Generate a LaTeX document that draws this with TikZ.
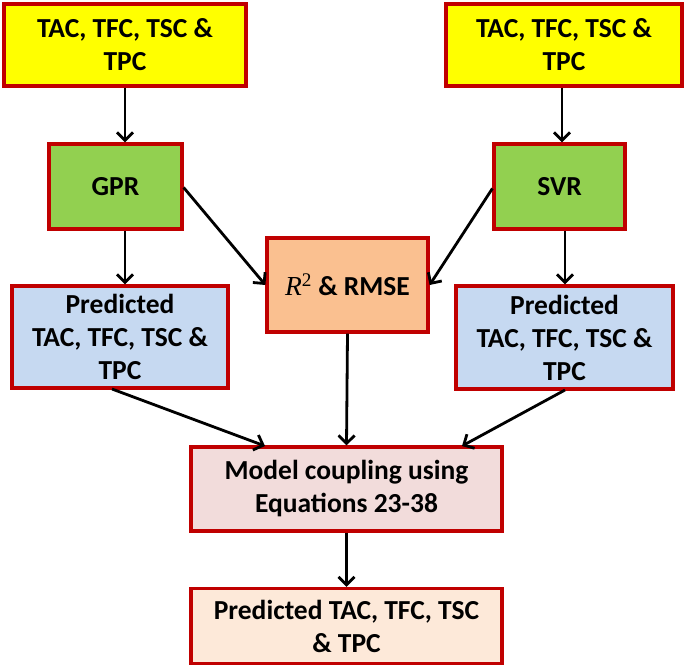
\documentclass[tikz,border=0pt]{standalone}
\usepackage{fontspec}
\setmainfont{Carlito}
\newfontfamily\rsqfont{Liberation Serif}
\usetikzlibrary{arrows.meta,calc}
\definecolor{bordred}{HTML}{C00000}
\definecolor{yel}{HTML}{FFFF00}
\definecolor{grn}{HTML}{92D050}
\definecolor{org}{HTML}{FAC090}
\definecolor{blu}{HTML}{C6D9F1}
\definecolor{pnk}{HTML}{F2DCDB}
\definecolor{peach}{HTML}{FDE9D9}
\tikzset{
  box/.style={draw=bordred, line width=3.2pt, inner sep=0pt, align=center,
    font=\fontsize{27.5}{33}\selectfont\bfseries},
  conn/.style={line width=2.8pt, -{Straight Barb[length=8pt,width=16pt,line width=2.8pt]}},
}
\begin{document}
\begin{tikzpicture}[x=1pt,y=-1pt]
\useasboundingbox (0,0) rectangle (685,666);
\node[box, fill=yel, minimum width=242, minimum height=82] (y1) at (125,45) {TAC, TFC, TSC \&\\TPC};
\node[box, fill=yel, minimum width=236, minimum height=82] (y2) at (564,45) {TAC, TFC, TSC \&\\TPC};
\node[box, fill=grn, minimum width=133, minimum height=85] (gpr) at (115.5,186.5) {GPR};
\node[box, fill=grn, minimum width=131, minimum height=85] (svr) at (559.5,186.5) {SVR};
\node[box, fill=org, minimum width=161, minimum height=94] (r2) at (347.5,285) {{\rsqfont\mdseries\itshape R}\textsuperscript{\rsqfont\mdseries 2} \& RMSE};
\node[box, fill=blu, minimum width=216, minimum height=102] (bl) at (120,337) {Predicted\\TAC, TFC, TSC \&\\TPC};
\node[box, fill=blu, minimum width=217, minimum height=103] (br) at (564.5,337.5) {Predicted\\TAC, TFC, TSC \&\\TPC};
\node[box, fill=pnk, minimum width=311, minimum height=84] (mc) at (346.5,489) {Model coupling using\\Equations 23-38};
\node[box, fill=peach, minimum width=311, minimum height=75] (out) at (346.5,626) {Predicted TAC, TFC, TSC\\\& TPC};
\coordinate (a1) at (125,0);
\coordinate (a2) at (562,0);
\draw[conn] (a1 |- y1.south) -- (a1 |- gpr.north);
\draw[conn] (a2 |- y2.south) -- (a2 |- svr.north);
\draw[conn] (a1 |- gpr.south) -- (a1 |- bl.north);
\coordinate (a3) at (565,0);
\draw[conn] (a3 |- svr.south) -- (a3 |- br.north);
\draw[conn] ($(gpr.east)+(0,1)$) -- (r2.west);
\draw[conn] ($(svr.west)+(0,2)$) -- (r2.east);
\draw[conn] (r2.south) -- (mc.north);
\draw[conn] (112,389) -- (265,446);
\draw[conn] (565,390) -- (462,446);
\draw[conn] (mc.south) -- (out.north);
\end{tikzpicture}
\end{document}
